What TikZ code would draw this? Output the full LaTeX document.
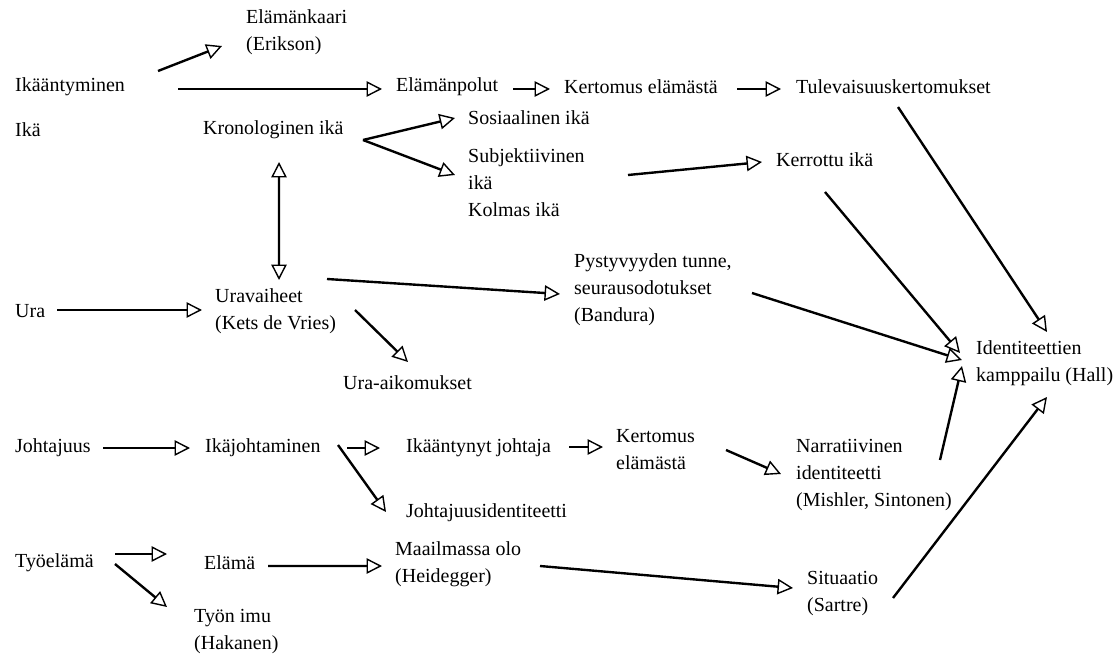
\documentclass[tikz,border=0pt]{standalone}
\usepackage{fontspec}
\setmainfont{Liberation Serif}
\usetikzlibrary{arrows.meta}

\begin{document}
\begin{tikzpicture}[line width=1.7pt,
   arr/.style={-{Triangle[open,length=11pt,width=11pt,line width=1pt]}},
   both/.style={{Triangle[open,length=11pt,width=11pt,line width=1pt]}-{Triangle[open,length=11pt,width=11pt,line width=1pt]}}]
\useasboundingbox (0,0) rectangle (28,16.5);
   \begin{scope}[every node/.style={anchor=west,inner sep=0pt,align=left,font=\fontsize{14.2}{19.2}\selectfont}]
\node (erikson) at (6.125,15.7) {Elämänkaari\\(Erikson)};
\node (ikaant) at (0.35,14.325) {Ikääntyminen};
\node (polut) at (9.875,14.325) {Elämänpolut};
\node (kert1) at (14.075,14.325) {Kertomus elämästä};
\node (tulev) at (19.875,14.325) {Tulevaisuuskertomukset};

\node (ika) at (0.35,13.25) {Ikä};
\node (krono) at (5.05,13.25) {Kronologinen ikä};
\node (sosiaal) at (11.675,13.55) {Sosiaalinen ikä};
\node (subj) at (11.675,11.925) {Subjektiivinen\\ikä\\Kolmas ikä};
\node (kerrottu) at (19.375,12.5) {Kerrottu ikä};

\node (ura) at (0.35,8.725) {Ura};
\node (uravaih) at (5.35,8.725) {Uravaiheet\\(Kets de Vries)};
\node (aikom) at (8.55,6.925) {Ura-aikomukset};
\node (pysty) at (14.325,9.25) {Pystyvyyden tunne,\\seurausodotukset\\(Bandura)};
\node (ident) at (24.375,7.425) {Identiteettien\\kamppailu (Hall)};

\node (johtaj) at (0.35,5.3) {Johtajuus};
\node (ikajoht) at (5.1,5.3) {Ikäjohtaminen};
\node (ikaantynyt) at (10.125,5.3) {Ikääntynyt johtaja};
\node (kert2) at (15.375,5.25) {Kertomus\\elämästä};
\node (johtident) at (10.125,3.675) {Johtajuusidentiteetti};
\node (narr) at (19.875,4.625) {Narratiivinen\\identiteetti\\(Mishler, Sintonen)};

\node (tyoelama) at (0.35,2.425) {Työelämä};
\node (elama) at (5.075,2.425) {Elämä};
\node (maailma) at (9.85,2.4) {Maailmassa olo\\(Heidegger)};
\node (situaatio) at (20.15,1.65) {Situaatio\\(Sartre)};
\node (tyonimu) at (4.825,0.7) {Työn imu\\(Hakanen)};
   \end{scope}

% ikaantyminen
\draw[arr] ([shift={(3.6,0.4)}]ikaant.west) -- ([shift={(-0.575,-0.35)}]erikson.west);
\draw[arr] ([shift={(4.1,-0.05)}]ikaant.west) -- ([shift={(-0.325,-0.05)}]polut.west);
\draw[arr] ([shift={(2.95,-0.05)}]polut.west) -- ([shift={(-0.325,-0.05)}]kert1.west);
\draw[arr] ([shift={(4.35,-0.05)}]kert1.west) -- ([shift={(-0.35,-0.05)}]tulev.west);
\draw[arr] ([shift={(2.575,-0.5)}]tulev.west) -- ([shift={(1.8,0.775)}]ident.west);

% ika
\draw[arr] ([shift={(4.025,-0.25)}]krono.west) -- ([shift={(-0.3,0)}]sosiaal.west);
\draw[arr] ([shift={(4.025,-0.25)}]krono.west) -- ([shift={(-0.3,0.2)}]subj.west);
\draw[both] ([shift={(1.925,-0.8)}]krono.west) -- ([shift={(1.625,0.775)}]uravaih.west);
\draw[arr] ([shift={(4.025,0.2)}]subj.west) -- ([shift={(-0.325,-0.05)}]kerrottu.west);
\draw[arr] ([shift={(1.25,-0.8)}]kerrottu.west) -- ([shift={(-0.375,0.25)}]ident.west);

% ura
\draw[arr] ([shift={(1.075,0.025)}]ura.west) -- ([shift={(-0.3,0.025)}]uravaih.west);
\draw[arr] ([shift={(2.825,0.8)}]uravaih.west) -- ([shift={(-0.325,-0.1)}]pysty.west);
\draw[arr] ([shift={(3.525,0.025)}]uravaih.west) -- ([shift={(1.65,0.525)}]aikom.west);
\draw[arr] ([shift={(4.475,-0.075)}]pysty.west) -- ([shift={(-0.325,0.075)}]ident.west);

% johtajuus
\draw[arr] ([shift={(2.225,0)}]johtaj.west) -- ([shift={(-0.35,0)}]ikajoht.west);
\draw[arr] ([shift={(3.575,0)}]ikajoht.west) -- ([shift={(-0.625,0)}]ikaantynyt.west);
\draw[arr] ([shift={(3.35,0.075)}]ikajoht.west) -- ([shift={(-0.475,0.025)}]johtident.west);
\draw[arr] ([shift={(4.1,0.025)}]ikaantynyt.west) -- ([shift={(-0.3,0.075)}]kert2.west);
\draw[arr] ([shift={(2.775,0)}]kert2.west) -- ([shift={(-0.35,0.025)}]narr.west);
\draw[arr] ([shift={(3.625,0.375)}]narr.west) -- ([shift={(-0.325,-0.075)}]ident.west);

% tyoelama
\draw[arr] ([shift={(2.525,0.225)}]tyoelama.west) -- ([shift={(-0.9,0.225)}]elama.west);
\draw[arr] ([shift={(2.525,-0.025)}]tyoelama.west) -- ([shift={(-0.65,0.625)}]tyonimu.west);
\draw[arr] ([shift={(1.625,-0.075)}]elama.west) -- ([shift={(-0.3,-0.05)}]maailma.west);
\draw[arr] ([shift={(3.65,-0.05)}]maailma.west) -- ([shift={(-0.325,0.15)}]situaatio.west);
\draw[arr] ([shift={(2.175,-0.1)}]situaatio.west) -- ([shift={(1.8,-0.85)}]ident.west);
\end{tikzpicture}
\end{document}
